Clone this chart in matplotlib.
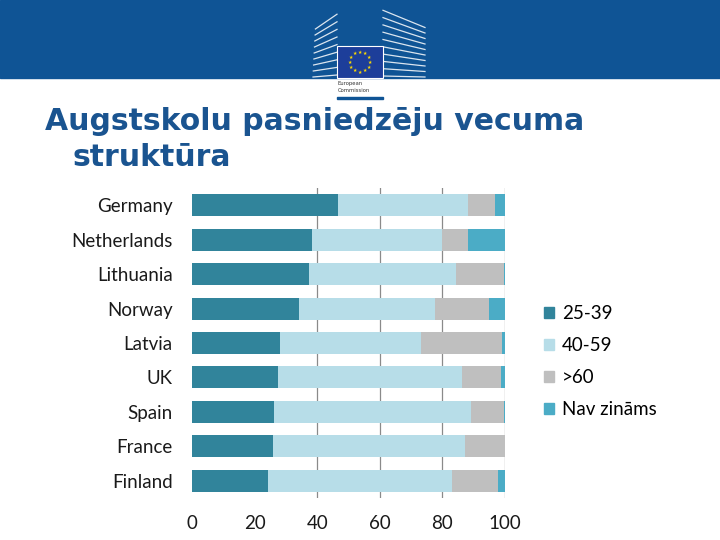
import matplotlib
matplotlib.use("Agg")
import matplotlib.pyplot as plt
import matplotlib.patches as mpatches
from matplotlib.lines import Line2D
import numpy as np

countries = ["Germany", "Netherlands", "Lithuania", "Norway", "Latvia",
             "UK", "Spain", "France", "Finland"]
age_25_39 = [46.6, 38.3, 37.4, 34.2, 28.1, 27.5, 26.2, 25.9, 24.3]
age_40_59 = [41.6, 41.7, 46.9, 43.4, 45.1, 58.8, 62.9, 61.3, 58.8]
age_60 = [8.6, 8.2, 15.4, 17.3, 26.0, 12.4, 10.6, 12.8, 14.7]
unknown = [3.2, 11.8, 0.3, 5.1, 0.8, 1.3, 0.3, 0.0, 2.2]
series_names = ["25-39", "40-59", ">60", "Nav zināms"]
colors = ["#31849B", "#B7DDE8", "#BFBFBF", "#4BACC6"]
xticks = [0, 20, 40, 60, 80, 100]
title_line1 = "Augstskolu pasniedzēju vecuma"
title_line2 = "struktūra"

FONT = ["Lato", "DejaVu Sans"]

fig = plt.figure(figsize=(7.2, 5.4), dpi=100)
fig.patch.set_facecolor("white")

W, H = 720, 540
def fx(px): return px / W
def fy(py): return 1 - py / H

# header band
fig.patches.append(mpatches.Rectangle((0, fy(78)), 1, 78 / H, transform=fig.transFigure,
                                      color="#0F5495", zorder=0))
# building stripes (left)
for i in range(9):
    yy = 78 - 6 * i
    fig.lines.append(Line2D([fx(313 + i * 0.3), fx(337)], [fy(yy - 1), fy(yy - 3 - i * 1.6)],
                            transform=fig.transFigure, color="white", lw=0.9, alpha=0.85))
# building stripes (right)
for i in range(10):
    yy = 78 - 5.5 * i
    fig.lines.append(Line2D([fx(383), fx(425)], [fy(yy - 2 - i * 1.8), fy(yy - 1)],
                            transform=fig.transFigure, color="white", lw=0.9, alpha=0.85))
# EU flag
fig.patches.append(mpatches.Rectangle((fx(337), fy(78)), (383 - 337) / W, (78 - 46) / H,
                                      transform=fig.transFigure, facecolor="#1D3E9A",
                                      edgecolor="white", lw=0.8, zorder=2))
cx, cy, r = 360, 62, 10
for k in range(12):
    a = 2 * np.pi * k / 12
    fig.text(fx(cx + r * np.cos(a)), fy(cy + r * np.sin(a)), "★", color="#FFDD00",
             fontsize=3.5, ha="center", va="center", family="DejaVu Sans", zorder=3)
fig.text(fx(338), fy(84), "European", fontsize=3.8, color="#333333", va="center",
         family="DejaVu Sans")
fig.text(fx(338), fy(91), "Commission", fontsize=3.8, color="#333333", va="center",
         family="DejaVu Sans")
fig.patches.append(mpatches.Rectangle((fx(337), fy(99)), (383 - 337) / W, 2 / H,
                                      transform=fig.transFigure, color="#0F5495"))

# title
fig.text(fx(45), fy(130), title_line1, fontsize=21.5, fontweight="bold", color="#1A5490",
         family="DejaVu Sans", va="baseline", ha="left")
fig.text(fx(72), fy(166), title_line2, fontsize=21.5, fontweight="bold", color="#1A5490",
         family="DejaVu Sans", va="baseline", ha="left")

# chart
ax = fig.add_axes([fx(192), fy(498), (505 - 192) / W, (498 - 188) / H])
y = np.arange(len(countries))
left = np.zeros(len(countries))
for vals, name, c in zip([age_25_39, age_40_59, age_60, unknown], series_names, colors):
    ax.barh(y, vals, left=left, height=0.64, color=c, label=name, zorder=2)
    left += np.array(vals)

ax.set_xlim(0, 100)
ax.set_ylim(len(countries) - 0.5, -0.5)
ax.set_yticks(y)
ax.set_yticklabels(countries, family=FONT, fontsize=13.5, color="#1a1a1a")
ax.set_xticks(xticks)
ax.set_xticklabels([str(t) for t in xticks], family=FONT, fontsize=13.5, color="#1a1a1a")
for gx in [40, 60, 80, 100]:
    ax.axvline(gx, color="#8a8a8a", lw=0.9, zorder=1)
for s in ax.spines.values():
    s.set_visible(False)
ax.tick_params(axis="y", length=0, pad=14)
ax.tick_params(axis="x", length=0, pad=12)

handles = [mpatches.Patch(color=c, label=n) for c, n in zip(colors, series_names)]
fig.legend(handles=handles, loc="upper left", bbox_to_anchor=(fx(527), fy(288)),
           frameon=False, prop={"family": FONT, "size": 13.5},
           handlelength=0.55, handleheight=0.55, handletextpad=0.4,
           labelspacing=0.8)

fig.savefig("out.png", dpi=100)
